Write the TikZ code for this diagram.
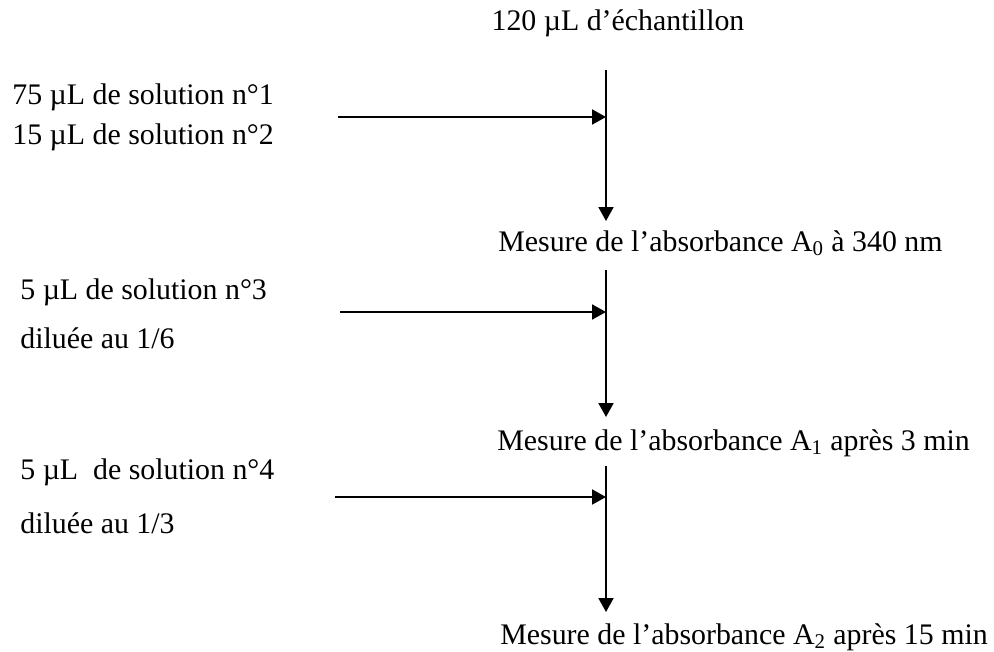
\documentclass[tikz,border=0pt]{standalone}
\usepackage{fontspec}
\setmainfont{Liberation Serif}
\usetikzlibrary{arrows.meta}

\begin{document}
\begin{tikzpicture}[x=0.02cm,y=-0.02cm,
  txt/.style={inner sep=0pt,anchor=west,font=\fontsize{17}{20}\selectfont},
  flow/.style={line width=1.1pt,-{Triangle[length=0.28cm,width=0.3cm]}}]

\useasboundingbox (0,0) rectangle (994,652);

% Main column
\node[txt,anchor=center] (ech) at (618,23) {120 µL d’échantillon};
\node[txt] (mes0) at (498,243) {Mesure de l’absorbance A\textsubscript{0} à 340 nm};
\node[txt] (mes1) at (497,443) {Mesure de l’absorbance A\textsubscript{1} après 3 min};
\node[txt] (mes2) at (500,637) {Mesure de l’absorbance A\textsubscript{2} après 15 min};

% Reagents added
\node[txt] (sol1) at (12,97) {75 µL de solution n°1};
\node[txt] (sol2) at (12,137) {15 µL de solution n°2};
\node[txt] (sol3) at (20,292) {5 µL de solution n°3};
\node[txt] (dil3) at (20,338) {diluée au 1/6};
\node[txt] (sol4) at (20,472) {5 µL\ \ de solution n°4};
\node[txt] (dil4) at (20,523) {diluée au 1/3};

% Ends of the connectors
\coordinate (top1) at (606,70);
\coordinate (bot1) at (606,221);
\coordinate (top2) at (606,270);
\coordinate (bot2) at (606,417);
\coordinate (top3) at (606,466);
\coordinate (bot3) at (606,612);

\coordinate (in1) at (338,117);
\coordinate (in2) at (340,312);
\coordinate (in3) at (335,497);

% Vertical steps
\draw[flow] (top1) -- (bot1);
\draw[flow] (top2) -- (bot2);
\draw[flow] (top3) -- (bot3);

% Additions
\draw[flow] (in1) -- (in1 -| top1);
\draw[flow] (in2) -- (in2 -| top2);
\draw[flow] (in3) -- (in3 -| top3);

\end{tikzpicture}
\end{document}
